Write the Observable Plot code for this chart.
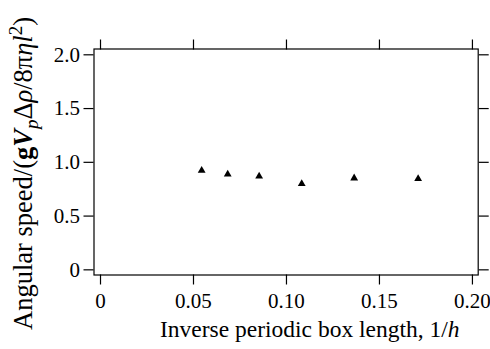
<!DOCTYPE html>
<html>
<head>
<meta charset="utf-8">
<script src="https://cdn.jsdelivr.net/npm/d3@7"></script>
<script src="https://cdn.jsdelivr.net/npm/@observablehq/plot@0.6"></script>
<style>
  html, body { margin: 0; padding: 0; background: #fff; }
  svg { display: block; }
</style>
</head>
<body>
<script>
// Data
const invBoxLength = [0.0544, 0.0684, 0.0853, 0.1082, 0.1364, 0.1708];
const angularSpeed = [0.925, 0.889, 0.871, 0.801, 0.853, 0.847];

const xTicks = [0, 0.05, 0.10, 0.15, 0.20];
const xTickLabels = ["0", "0.05", "0.10", "0.15", "0.20"];
const yTicks = [0, 0.5, 1.0, 1.5, 2.0];
const yTickLabels = ["0", "0.5", "1.0", "1.5", "2.0"];

const xLabelText = "Inverse periodic box length, 1/";
const xLabelItalic = "h";
const yLabelParts = [
  ["Angular speed/(", "normal"],
  ["g", "bold"],
  ["V", "bolditalic"],
  ["p", "sub"],
  ["\u0394", "normal"],
  ["\u03C1", "italic"],
  ["/8\u03C0", "normal"],
  ["\u03B7", "italic"],
  ["l", "italic"],
  ["2", "sup"],
  [")", "normal"]
];

const data = invBoxLength.map((x, i) => ({x, y: angularSpeed[i]}));
const font = "'Liberation Serif', 'Times New Roman', serif";

const svg = Plot.plot({
  width: 490,
  height: 349,
  marginLeft: 93.5,
  marginRight: 12.3,
  marginTop: 48.5,
  marginBottom: 74.5,
  style: {fontFamily: font, fontSize: "21px", color: "#000", background: "#fff"},
  x: {domain: [-0.0035, 0.2031]},
  y: {domain: [-0.048, 2.054]},
  marks: [
    Plot.frame({stroke: "#000", strokeWidth: 1.2}),
    Plot.axisX({anchor: "bottom", ticks: xTicks, tickSize: 10, tickPadding: 8,
      tickFormat: d => xTickLabels[xTicks.indexOf(d)], label: null, fontSize: 21, strokeWidth: 1.2}),
    Plot.axisX({anchor: "top", ticks: xTicks, tickSize: 10, tickFormat: () => "", label: null, strokeWidth: 1.2}),
    Plot.axisY({anchor: "left", ticks: yTicks, tickSize: 10, tickPadding: 4,
      tickFormat: d => yTickLabels[yTicks.indexOf(d)], label: null, fontSize: 21, strokeWidth: 1.2}),
    Plot.axisY({anchor: "right", ticks: yTicks, tickSize: 10, tickFormat: () => "", label: null, strokeWidth: 1.2}),
    Plot.dot(data, {x: "x", y: "y", symbol: "triangle", r: 2.9, fill: "#000", stroke: "none"})
  ]
});
document.body.appendChild(svg);

const s = d3.select(svg);
// x-axis title
const xl = s.append("text")
  .attr("x", 160).attr("y", 336.7)
  .attr("text-anchor", "start")
  .style("font-family", font).style("font-size", "23.5px").attr("fill", "#000");
xl.append("tspan").text(xLabelText);
xl.append("tspan").style("font-style", "italic").text(xLabelItalic);

// y-axis title
const yl = s.append("text")
  .attr("transform", "translate(31.7,330) rotate(-90)")
  .attr("text-anchor", "start")
  .style("font-family", font).style("font-size", "26.5px").attr("fill", "#000");
let shift = 0;
for (const [t, kind] of yLabelParts) {
  const ts = yl.append("tspan").text(t);
  let target = 0;
  if (kind === "bold") ts.style("font-weight", "bold");
  if (kind === "italic") ts.style("font-style", "italic");
  if (kind === "bolditalic") ts.style("font-weight", "bold").style("font-style", "italic");
  if (kind === "sub") { ts.style("font-style", "italic").style("font-size", "19px"); target = 6; }
  if (kind === "sup") { ts.style("font-size", "19px"); target = -10; }
  ts.attr("dy", target - shift);
  shift = target;
}
</script>
</body>
</html>
